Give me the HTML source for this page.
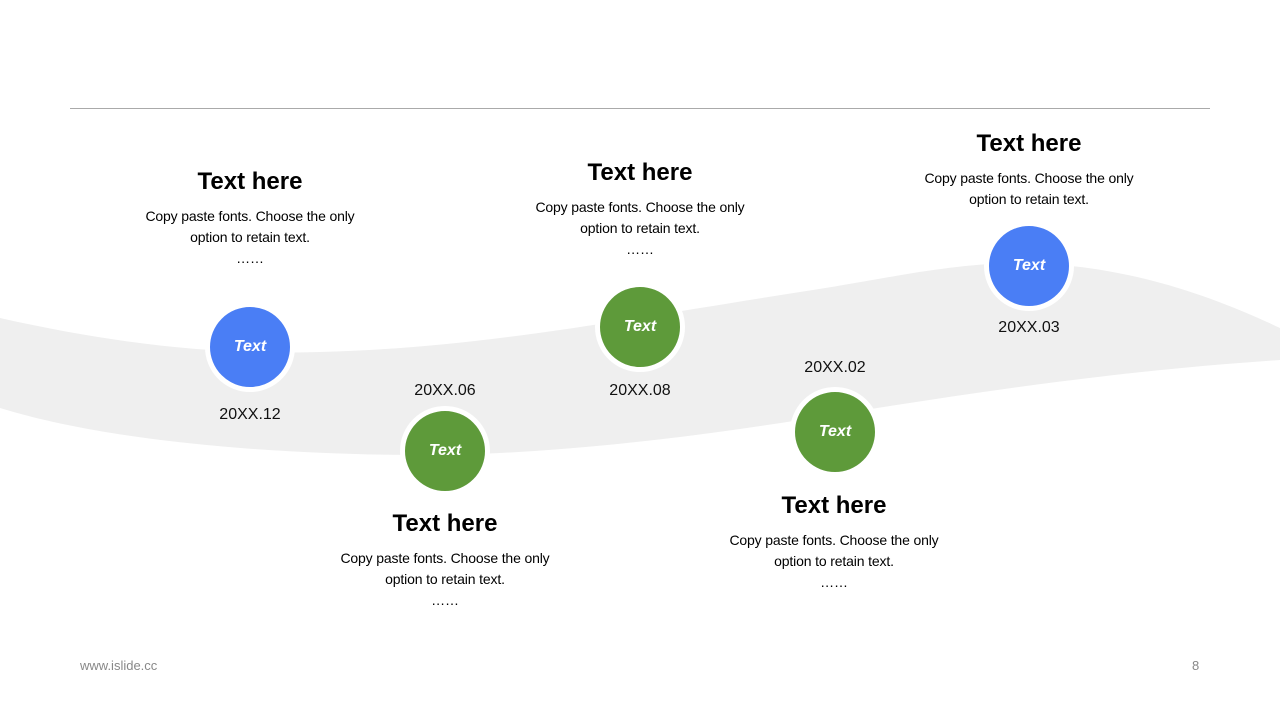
<!DOCTYPE html>
<html><head><meta charset="utf-8"><style>
body{margin:0;width:1280px;height:720px;background:#fff;position:relative;overflow:hidden;font-family:"Liberation Sans",Arial,sans-serif}
.t{position:absolute;width:300px;text-align:center;color:#000}
.h{font-size:24px;font-weight:bold;line-height:28px}
.b{font-size:14px;line-height:21px;margin-top:10px;letter-spacing:-0.15px}
.d{position:absolute;width:120px;text-align:center;font-size:16px;color:#111}
.c{position:absolute;width:80px;height:80px;border-radius:50%;border:5px solid #fff;color:#fff;font-style:italic;font-weight:bold;font-size:16px;line-height:80px;text-align:center}
.bl{background:#4a7ef5}.gr{background:#5e9a3a}
</style></head><body>
<div style="position:absolute;left:70px;top:108px;width:1140px;height:1px;background:#aaa"></div>
<svg style="position:absolute;left:0;top:0" width="1280" height="720">
<path d="M0,318 C120,345 220,355 320,352 C480,348 620,320 800,292 C880,280 940,265 1010,263 C1120,262 1210,295 1280,328 L1280,360 C1100,372 960,395 800,420 C640,445 520,455 420,455 C300,455 120,445 0,408 Z" fill="#efefef"/>
</svg>
<div class="t" style="left:100px;top:168px"><div class="h">Text here</div><div class="b">Copy paste fonts. Choose the only<br>option to retain text.<br>……</div></div>
<div class="t" style="left:490px;top:159px"><div class="h">Text here</div><div class="b">Copy paste fonts. Choose the only<br>option to retain text.<br>……</div></div>
<div class="t" style="left:879px;top:130px"><div class="h">Text here</div><div class="b">Copy paste fonts. Choose the only<br>option to retain text.</div></div>
<div class="t" style="left:295px;top:510px"><div class="h">Text here</div><div class="b">Copy paste fonts. Choose the only<br>option to retain text.<br>……</div></div>
<div class="t" style="left:684px;top:492px"><div class="h">Text here</div><div class="b">Copy paste fonts. Choose the only<br>option to retain text.<br>……</div></div>
<div class="c bl" style="left:205px;top:302px">Text</div>
<div class="c gr" style="left:400px;top:406px">Text</div>
<div class="c gr" style="left:595px;top:282px">Text</div>
<div class="c gr" style="left:790px;top:387px">Text</div>
<div class="c bl" style="left:984px;top:221px">Text</div>
<div class="d" style="left:190px;top:406px">20XX.12</div>
<div class="d" style="left:385px;top:382px">20XX.06</div>
<div class="d" style="left:580px;top:382px">20XX.08</div>
<div class="d" style="left:775px;top:359px">20XX.02</div>
<div class="d" style="left:969px;top:319px">20XX.03</div>
<div style="position:absolute;left:80px;top:658px;font-size:13px;color:#888">www.islide.cc</div>
<div style="position:absolute;left:1192px;top:658px;font-size:13px;color:#888">8</div>
</body></html>
